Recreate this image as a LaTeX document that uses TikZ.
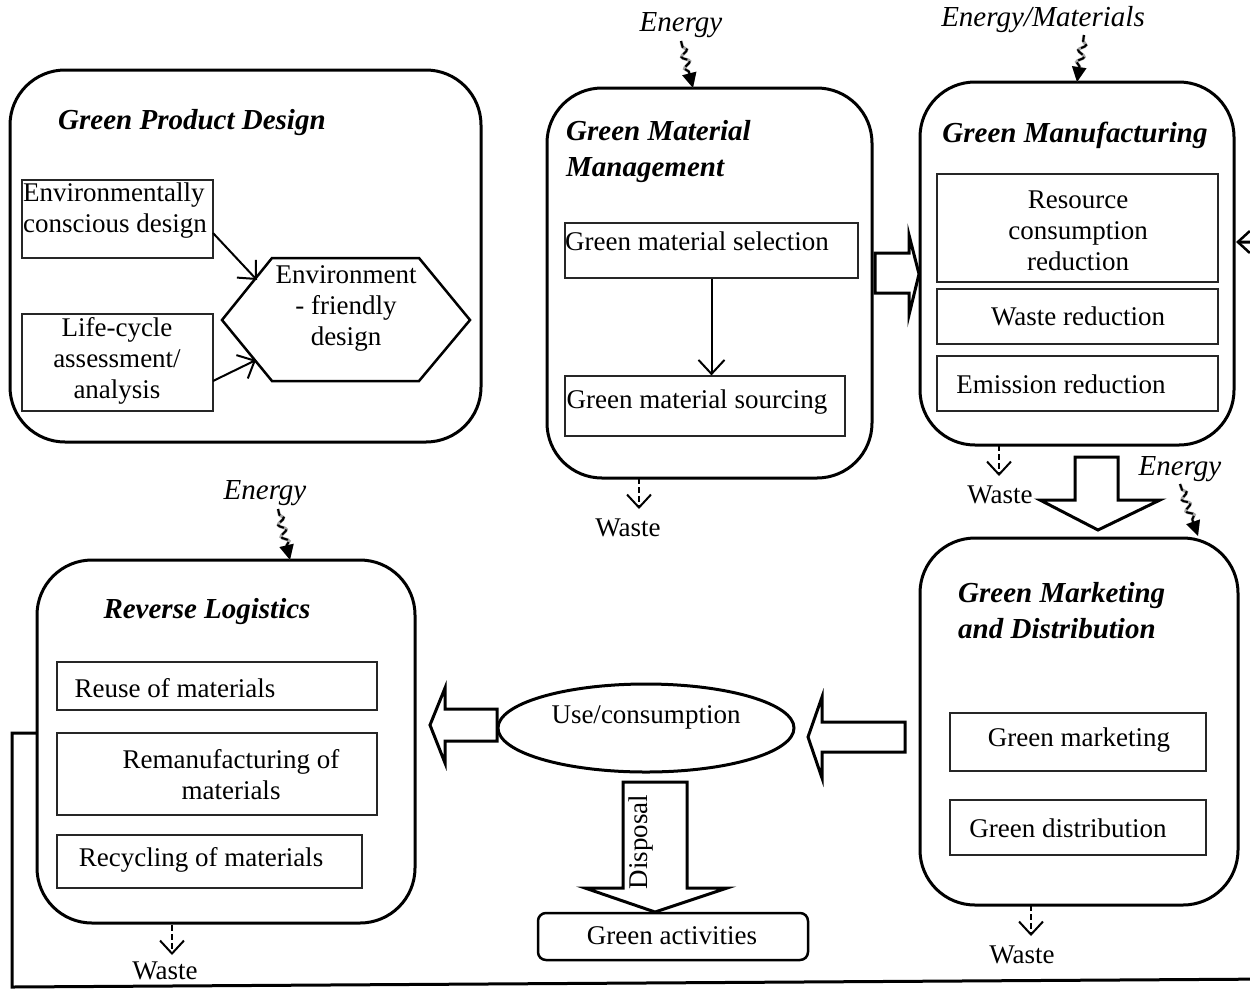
\documentclass[tikz,border=0pt]{standalone}
\usepackage{fontspec}
\setmainfont{Liberation Serif}
\usetikzlibrary{arrows.meta,decorations.pathmorphing,shapes.geometric}
\begin{document}
\begin{tikzpicture}[x=1pt,y=-1pt,
  every node/.style={inner sep=0pt, font=\fontsize{27}{31}\selectfont},
  bigbox/.style={draw, line width=3pt, rounded corners=55pt},
  ibox/.style={draw=black!85, line width=1.2pt},
  ttl/.style={font=\fontsize{29}{36}\selectfont\bfseries\itshape, align=left},
  lbl/.style={align=center},
  elbl/.style={font=\fontsize{29}{33}\selectfont\itshape},
  thinarrow/.style={line width=2pt, -{Straight Barb[length=14pt,width=26pt,line width=2pt]}},
  wastearrow/.style={line width=2pt, dash pattern=on 6pt off 3pt, -{Straight Barb[length=13pt,width=24pt,line width=2pt]}},
  energy/.style={line width=2pt, dash pattern=on 7pt off 3pt, decorate,
    decoration={snake, amplitude=3.5pt, segment length=12pt, pre length=6pt, post length=14pt},
    -{Triangle[length=15pt,width=14pt]}},
  energyshadow/.style={energy, draw=black!35, line width=3pt, solid, xshift=-2pt, yshift=-1.5pt},
  fat/.style={draw, line width=3pt, fill=white, line join=miter},
  feedback/.style={line width=3pt, -{Straight Barb[length=12pt,width=22pt,line width=2.5pt]}},
]
\path[use as bounding box, clip] (0,0) rectangle (1250,989);
\fill[white] (0,0) rectangle (1250,989);

% ---------------- Green Product Design ----------------
\node[bigbox, minimum width=471pt, minimum height=372pt] (gpd) at (245.5,256) {};
\node[ttl, anchor=west] (gpdt) at (58,123) {Green Product Design};
\node[ibox, minimum width=191pt, minimum height=78pt] (ecd) at (117.5,219) {};
\node[anchor=west, align=left] (ecdt) at (23,211) {Environmentally\\conscious design};
\node[ibox, minimum width=191pt, minimum height=97pt] (lca) at (117.5,362.5) {};
\node[lbl] (lcat) at (117,361) {Life-cycle\\assessment/\\analysis};
\node[lbl] (hex) at (346,308) {Environment\\- friendly\\design};
\draw[line width=2.5pt, line join=miter] (222,320) -- (272,258) -- (419,258) -- (470,320) -- (419,381) -- (272,381) -- cycle;
\coordinate (a1s) at (213,233);
\coordinate (a1e) at (257,280);
\coordinate (a2s) at (213,381);
\coordinate (a2e) at (256,360);
\draw[thinarrow] (a1s) -- (a1e);
\draw[thinarrow] (a2s) -- (a2e);

% ---------------- Green Material Management ----------------
\node[bigbox, minimum width=325pt, minimum height=390pt] (gmm) at (709.5,283) {};
\node[ttl, anchor=west] (gmmt) at (566,152) {Green Material\\Management};
\node[ibox, minimum width=293pt, minimum height=55pt] (sel) at (711.5,250.5) {};
\node (selt) at (697,241) {Green material selection};
\node[ibox, minimum width=280pt, minimum height=60pt] (src) at (705,406) {};
\node (srct) at (697,402) {Green material sourcing};
\draw[thinarrow] (sel.south) -- (sel.south |- src.north);

% ---------------- Green Manufacturing ----------------
\node[bigbox, minimum width=314pt, minimum height=363pt] (gman) at (1077,263.5) {};
\node[ttl] (gmant) at (1075,135) {Green Manufacturing};
\node[ibox, minimum width=281pt, minimum height=108pt] (rcr) at (1077.5,228) {};
\node[lbl] (rcrt) at (1078,231) {Resource\\consumption\\reduction};
\node[ibox, minimum width=281pt, minimum height=55pt] (wr) at (1077.5,316.5) {};
\node (wrt) at (1078,316) {Waste reduction};
\node[ibox, minimum width=281pt, minimum height=55pt] (er) at (1077.5,383.5) {};
\node (ert) at (1061,384) {Emission reduction};

% ---------------- Green Marketing and Distribution ----------------
\node[bigbox, minimum width=318pt, minimum height=367pt] (gmd) at (1079,721.5) {};
\node[ttl, anchor=west] (gmdt) at (958,611) {Green Marketing\\and Distribution};
\node[ibox, minimum width=256pt, minimum height=58pt] (gmk) at (1078,742) {};
\node (gmkt) at (1079,740) {Green marketing};
\node[ibox, minimum width=256pt, minimum height=55pt] (gdi) at (1078,827.5) {};
\node (gdit) at (1068,828) {Green distribution};

% ---------------- Reverse Logistics ----------------
\node[bigbox, minimum width=378pt, minimum height=363pt] (rl) at (226,741.5) {};
\node[ttl] (rlt) at (207,612) {Reverse Logistics};
\node[ibox, minimum width=320pt, minimum height=48pt] (reuse) at (217,686) {};
\node (reuset) at (175,688) {Reuse of materials};
\node[ibox, minimum width=320pt, minimum height=82pt] (reman) at (217,774) {};
\node[lbl] (remant) at (231,775) {Remanufacturing of\\materials};
\node[ibox, minimum width=305pt, minimum height=53pt] (recy) at (209.5,861.5) {};
\node (recyt) at (201,860) {Recycling of materials};

% ---------------- Use / consumption ----------------
\node[draw, ellipse, line width=3pt, minimum width=296pt, minimum height=88pt] (use) at (646,728) {};
\node (uset) at (646,717) {Use/consumption};
\node[draw, line width=2.5pt, rounded corners=8pt, minimum width=270pt, minimum height=47pt] (ga) at (673,936.5) {};
\node (gat) at (672,936) {Green activities};

% ---------------- Fat arrows ----------------
\draw[fat] (875,253) -- (909,253) -- (909,235) -- (919,274) -- (909,315) -- (909,293) -- (875,293) -- cycle;
\draw[fat] (1075,457) -- (1118,457) -- (1118,500) -- (1160,500) -- (1098,530) -- (1040,500) -- (1075,500) -- cycle;
\draw[fat] (905,722) -- (822,722) -- (822,697) -- (808,737) -- (822,778) -- (822,752) -- (905,752) -- cycle;
\draw[fat] (497,709) -- (445,709) -- (445,688) -- (430,725) -- (445,763) -- (445,741) -- (497,741) -- cycle;
\draw[fat] (623,782) -- (687,782) -- (687,888) -- (727,888) -- (655,912) -- (585,888) -- (623,888) -- cycle;
\node[rotate=90] (disp) at (641,842) {Disposal};

% ---------------- Energy inputs ----------------
\node[elbl] (en1) at (681,25) {Energy};
\node[elbl] (en2) at (1043,20) {Energy/Materials};
\node[elbl] (en3) at (1180,469) {Energy};
\node[elbl] (en4) at (265,493) {Energy};
\coordinate (e1s) at (681,41);
\coordinate (e1e) at (693,88);
\coordinate (e2s) at (1084,35);
\coordinate (e2e) at (1077,82);
\coordinate (e3s) at (1180,484);
\coordinate (e3e) at (1198,536);
\coordinate (e4s) at (278,509);
\coordinate (e4e) at (290,560);
\foreach \s/\e in {e1s/e1e, e2s/e2e, e3s/e3e, e4s/e4e}{
  \draw[energyshadow] (\s) -- (\e);
  \draw[energy] (\s) -- (\e);
}

% ---------------- Waste outputs ----------------
\node (w1) at (628,528) {Waste};
\node (w2) at (1000,495) {Waste};
\node (w3) at (1022,955) {Waste};
\node (w4) at (165,971) {Waste};
\coordinate (w1s) at (639,478);
\coordinate (w1e) at (639,509);
\coordinate (w2s) at (999,445);
\coordinate (w2e) at (999,476);
\coordinate (w3s) at (1031,905);
\coordinate (w3e) at (1031,936);
\coordinate (w4s) at (172,925);
\coordinate (w4e) at (172,955);
\draw[wastearrow] (w1s) -- (w1e);
\draw[wastearrow] (w2s) -- (w2e);
\draw[wastearrow] (w3s) -- (w3e);
\draw[wastearrow] (w4s) -- (w4e);

% ---------------- Feedback loop ----------------
\coordinate (fb0) at (37,733);
\coordinate (fbend) at (1236,242);
\draw[feedback] (fb0) -- (12,733) -- (12,987) -- (1275,979) -- (1275,242) -- (fbend);
\end{tikzpicture}
\end{document}
